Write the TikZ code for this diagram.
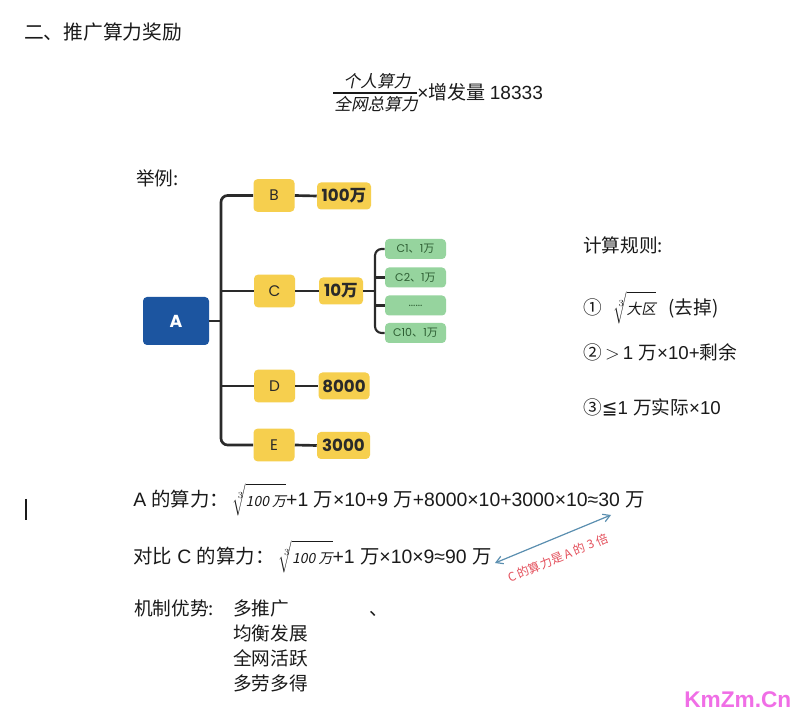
\documentclass[tikz,border=0pt]{standalone}
\usepackage{fontspec}
\setmainfont{Noto Sans CJK SC}
\newfontfamily\latf{Liberation Sans}
\newfontfamily\popf{Poppins}
\newfontfamily\slf[FakeSlant=0.2]{Noto Sans CJK SC}
\newfontfamily\djv{DejaVu Sans}
\usetikzlibrary{arrows.meta}
\definecolor{yel}{HTML}{F6CF4E}
\definecolor{blu}{HTML}{1C55A0}
\definecolor{grn}{HTML}{96D49E}
\definecolor{dgrn}{HTML}{2E5E33}
\definecolor{lk}{HTML}{2A2A2A}
\definecolor{txtc}{HTML}{1A1A1A}
\definecolor{arrc}{HTML}{5B8FB0}
\definecolor{lred}{HTML}{E4505C}
\definecolor{wmc}{HTML}{F06EE6}
\newcommand\radtxt{\slf\fontsize{10.5}{12}\selectfont}
\newcommand\cjkb[1]{{\rmfamily\bfseries #1}}
\newcommand\cjkr[1]{{\rmfamily #1}}
\newcommand\bigrad[1]{$\sqrt[3]{\rule[-6pt]{0pt}{21pt}\hbox{#1}}$}
\begin{document}
\begin{tikzpicture}[x=0.75pt,y=-0.75pt,
  ybox/.style={fill=yel, rounded corners=3pt, inner sep=0pt, minimum height=24.5pt, minimum width=30.75pt, text=lk, font=\popf\fontsize{11.5}{13}\selectfont},
  vbox/.style={ybox, minimum height=20.25pt, font=\popf\bfseries\fontsize{12.5}{14}\selectfont},
  gbox/.style={fill=grn, rounded corners=3pt, minimum width=45.75pt, minimum height=15pt, inner sep=0pt, text=dgrn, font=\popf\fontsize{8.3}{9}\selectfont},
  conn/.style={line width=2pt, draw=lk, rounded corners=5pt},
  txt/.style={anchor=base west, inner sep=0pt, text=txtc, font=\fontsize{14}{17}\selectfont},
  big/.style={txt, font=\fontsize{14.55}{17}\selectfont},
  arr/.style={{Straight Barb[length=5pt,width=6pt]}-{Straight Barb[length=5pt,width=6pt]}, draw=arrc, line width=0.9pt}]
\useasboundingbox[fill=white] (0,0) rectangle (800,712);
% title
\node[txt, font=\fontsize{14.8}{17}\selectfont] (title) at (24,39.5) {二、推广算力奖励};
% formula
\node[anchor=base, inner sep=0pt, text=txtc, font=\slf\fontsize{12.5}{15}\selectfont] (num) at (377,87.5) {个人算力};
\node[anchor=base, inner sep=0pt, text=txtc, font=\slf\fontsize{12.5}{15}\selectfont] (den) at (376,111) {全网总算力};
\coordinate (fb1) at (333,93);
\coordinate (fb2) at (417,93);
\draw[line width=1.3pt, txtc] (fb1) -- (fb2);
\node[txt, font=\fontsize{14.3}{17}\selectfont] (mult) at (417,99.5) {{\latf ×}增发量 {\latf 18333}};
% example
\node[txt] (eg) at (136,186) {举例:};
% tree
\node[fill=blu, rounded corners=3pt, minimum width=49.5pt, minimum height=36pt, inner sep=0pt, text=white, font=\popf\bfseries\fontsize{13}{15}\selectfont] (A) at (176,321) {A};
\node[ybox] (B) at (274,195.5) {B};
\node[ybox] (C) at (274.5,291) {C};
\node[ybox] (D) at (274.5,386) {D};
\node[ybox] (E) at (274,445) {E};
\node[vbox, minimum width=40.5pt] (vB) at (344,196) {100\cjkb{万}};
\node[vbox, minimum width=33pt] (vC) at (341,291) {10\cjkb{万}};
\node[vbox, minimum width=38.25pt] (vD) at (344,386) {8000};
\node[vbox, minimum width=39.75pt] (vE) at (343.5,445.5) {3000};
\node[gbox] (g1) at (415.5,249) {C1\cjkr{、}1\cjkr{万}};
\node[gbox] (g2) at (415.5,277.5) {C2\cjkr{、}1\cjkr{万}};
\node[gbox] (g3) at (415.5,305.5) {......};
\node[gbox] (g4) at (415.5,333) {C10\cjkr{、}1\cjkr{万}};
\coordinate (tr) at (221,0);
\coordinate (st) at (375,0);
\draw[conn] (B.west) -| (tr |- E.west) -- (E.west);
\draw[conn] (A.east) -- (tr |- A.east);
\draw[conn] (tr |- C.west) -- (C.west);
\draw[conn] (tr |- D.west) -- (D.west);
\draw[conn] (B.east) -- (vB.west);
\draw[conn] (C.east) -- (vC.west);
\draw[conn] (D.east) -- (vD.west);
\draw[conn] (E.east) -- (vE.west);
\draw[conn, line width=1.6pt] (g1.west) -| (st |- g4.west) -- (g4.west);
\draw[conn, line width=1.6pt] (vC.east) -- (st |- vC.east);
\draw[conn, line width=1.6pt] (st |- g2.west) -- (g2.west);
\draw[conn, line width=1.6pt] (st |- g3.west) -- (g3.west);
% rules
\node[txt] (r0) at (583,253) {计算规则:};
\node[txt] (r1) at (583,315) {①\ \ \,\bigrad{\slf\fontsize{11}{12}\selectfont 大区}\ \ \ (去掉)};
\node[txt] (r2) at (583,360) {②$\,>$\,{\latf 1 }万{\latf ×10+}剩余};
\node[txt] (r3) at (583,415) {③{\djv ≦}{\latf 1 }万实际{\latf ×10}};
% bottom formulas
\node[big] (la) at (133,507) {{\latf A }的算力：\,\bigrad{\radtxt 100 万}{\latf +1 }万{\latf ×10+9 }万{\latf +8000×10+3000×10≈30 }万};
\node[big] (lc) at (133,564) {对比{\latf\ C }的算力：\ \bigrad{\radtxt 100 万}{\latf +1 }万{\latf ×10×9≈90 }万};
\coordinate (p1) at (495,563);
\coordinate (p2) at (611,515);
\draw[arr] (p1) -- (p2);
\node[rotate=22.5, inner sep=0pt, text=lred, font=\fontsize{9}{10}\selectfont] (lab) at (558,558) {C 的算力是 A 的 3 倍};
% advantages
\node[txt] (m0) at (134,616) {机制优势:};
\node[txt] (m1) at (233,616) {多推广};
\node[txt] (m2) at (233,641) {均衡发展};
\node[txt] (m3) at (233,666) {全网活跃};
\node[txt] (m4) at (233,691) {多劳多得};
\node[txt] (dun) at (369,616) {、};
% cursor
\coordinate (cu1) at (26,499);
\coordinate (cu2) at (26,520);
\draw[line width=1.4pt, txtc] (cu1) -- (cu2);
% watermark
\node[anchor=base west, inner sep=0pt, text=wmc, font=\latf\bfseries\fontsize{17}{19}\selectfont] (wm) at (684,707) {KmZm.Cn};
\end{tikzpicture}
\end{document}
